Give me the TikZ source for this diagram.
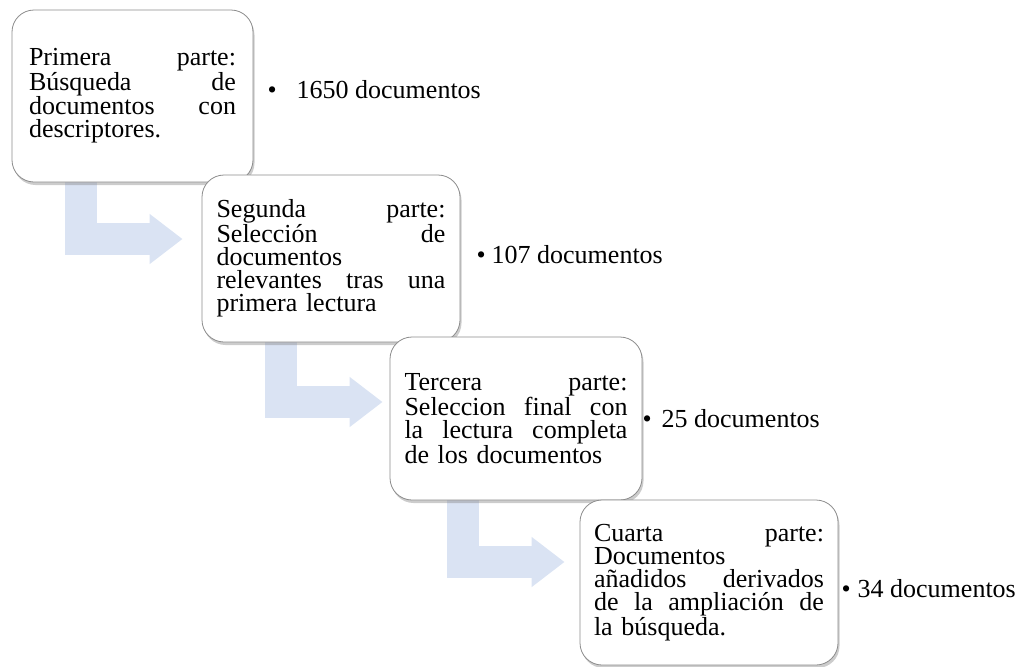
\documentclass[tikz,border=0pt]{standalone}
\usepackage{fontspec}
\setmainfont{Liberation Serif}
\usetikzlibrary{shadows,arrows.meta,positioning,backgrounds}
\definecolor{flowblue}{RGB}{218,227,243}
\pgfdeclareradialshading{bevel}{\pgfpoint{0bp}{0bp}}{color(0bp)=(white); color(41bp)=(white); color(50bp)=(black!24); color(72bp)=(black!36)}
\tikzset{
  stage/.style={rectangle, rounded corners=22pt, draw=black!45, line width=0.8pt,
                shade, shading=bevel, inner sep=0pt, align=left,
                drop shadow={shadow xshift=1.5pt, shadow yshift=-3pt, opacity=0.4},
                font=\fontsize{26pt}{23pt}\selectfont},
  count/.style={inner sep=0pt, anchor=base west, font=\fontsize{26pt}{23pt}\selectfont},
  flow/.style={draw=flowblue, line width=32.5pt, line join=miter,
               -{Triangle[length=33pt, width=48pt]}},
}

\begin{document}
\begin{tikzpicture}[x=1pt, y=-1pt]
  \useasboundingbox (0,0) rectangle (1029,667);

  % ----- Stages -----
  \node[stage, minimum width=241pt, minimum height=172pt, text width=207pt] (b1) at (132.5,96) {%
    Primera\hfill parte:\\ Búsqueda\hfill de\\ documentos\hfill con\\ descriptores.};
  \node[stage, minimum width=258pt, minimum height=167pt, text width=229pt] (b2) at (331,258.5) {%
    Segunda\hfill parte:\\ Selección\hfill de\\ documentos\\ relevantes\hfill tras\hfill una\\ primera lectura};
  \node[stage, minimum width=252pt, minimum height=163pt, text width=223pt] (b3) at (516,418.5) {%
    Tercera\hfill parte:\\ Seleccion\hfill final\hfill con\\ la\hfill lectura\hfill completa\\ de los documentos};
  \node[stage, minimum width=258pt, minimum height=165pt, text width=230pt] (b4) at (709,582.5) {%
    Cuarta\hfill parte:\\ Documentos\\ añadidos\hfill derivados\\ de\hfill la\hfill ampliación\hfill de\\ la búsqueda.};

  % ----- Counts -----
  \node[count] (n1) at ([xshift=14pt, yshift=-2pt]b1.east) {•\hspace{20pt}1650 documentos};
  \node[count] (n2) at ([xshift=16pt, yshift=-4.5pt]b2.east) {•\hspace{6pt}107 documentos};
  \node[count] (n3) at ([xshift=0pt, yshift=-8.5pt]b3.east) {•\hspace{10pt}25 documentos};
  \node[count] (n4) at ([xshift=3pt, yshift=-14.5pt]b4.east) {•\hspace{7pt}34 documentos};

  % ----- Bent arrows -----
  \begin{scope}[on background layer]
    \draw[flow] ([xshift=-51.5pt]b1.south) |- ([xshift=-19pt, yshift=19.5pt]b2.west);
    \draw[flow] ([xshift=-50pt]b2.south) |- ([xshift=-7pt, yshift=16.5pt]b3.west);
    \draw[flow] ([xshift=-53pt]b3.south) |- ([xshift=-15pt, yshift=20.5pt]b4.west);
  \end{scope}
\end{tikzpicture}
\end{document}
